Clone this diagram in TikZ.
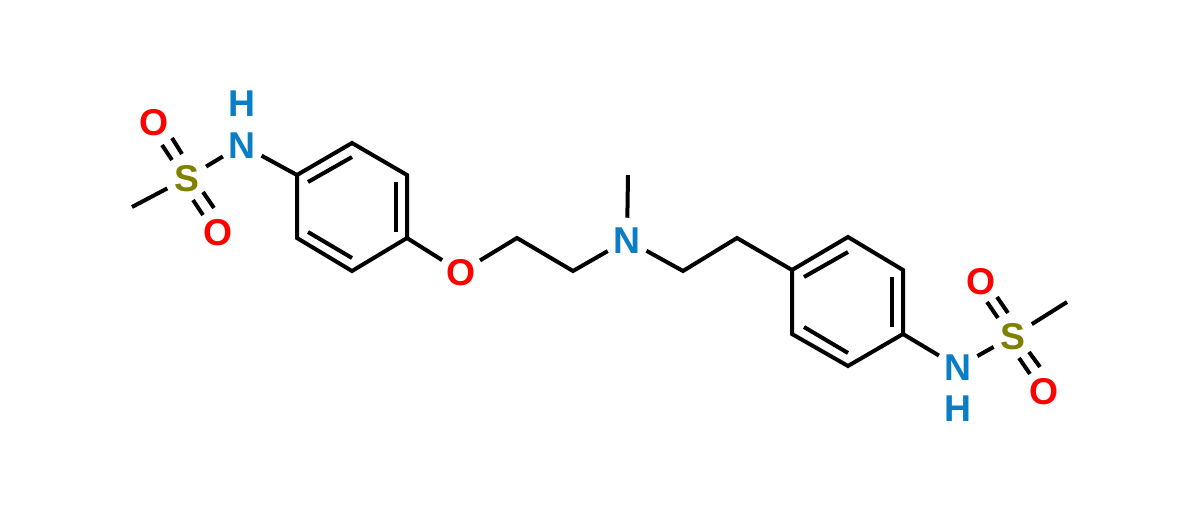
\documentclass[tikz,border=0pt]{standalone}
\usepackage{fontspec}
\setmainfont{Liberation Sans}
\definecolor{nblue}{HTML}{0A7EC4}
\definecolor{solive}{HTML}{808000}
\definecolor{ored}{HTML}{FF0000}
\tikzset{
  atomlabel/.style={circle,inner sep=0pt,minimum size=33pt,font=\bfseries\fontsize{28pt}{28pt}\selectfont,text height=20pt,text depth=0pt},
  natom/.style={atomlabel,text=nblue},
  satom/.style={atomlabel,text=solive},
  oatom/.style={atomlabel,text=ored},
  hatom/.style={natom,minimum size=1pt},
  bond/.style={draw=black,line width=3pt,line cap=butt,line join=miter}
}
\begin{document}
\begin{tikzpicture}[x=0.75pt,y=-0.75pt]
\useasboundingbox (0,0) rectangle (1200,511);
% left sulfonamide
\node[natom] (n1) at (242,145) {N};
\node[hatom] (h1) at (242,103) {H};
\node[satom] (s1) at (187,178) {S};
\node[oatom] (o1) at (154,122) {O};
\node[oatom] (o2) at (218,232) {O};
\coordinate (me1) at (132,207);
% left ring
\coordinate (a1) at (297,175);
\coordinate (a2) at (352,143);
\coordinate (a3) at (407,175);
\coordinate (a4) at (407,238);
\coordinate (a5) at (352,271);
\coordinate (a6) at (297,238);
% chain
\node[oatom] (o3) at (461,272) {O};
\coordinate (c1) at (517,238);
\coordinate (c2) at (573,271);
\node[natom] (n2) at (627,240) {N};
\coordinate (me2) at (628,175);
\coordinate (c3) at (683,271);
\coordinate (c4) at (737,238);
% right ring
\coordinate (b1) at (792,270);
\coordinate (b2) at (848,237);
\coordinate (b3) at (903,270);
\coordinate (b4) at (903,334);
\coordinate (b5) at (848,366);
\coordinate (b6) at (792,334);
% right sulfonamide
\node[natom] (n3) at (958,367) {N};
\node[hatom] (h3) at (958,408) {H};
\node[satom] (s3) at (1013,336) {S};
\node[oatom] (o4) at (981,281) {O};
\node[oatom] (o5) at (1044,391) {O};
\coordinate (me3) at (1067,302);
% single bonds
\draw[bond] (me1) -- (s1);
\draw[bond] (s1) -- (n1);
\draw[bond] (n1) -- (a1);
\draw[bond] (a1) -- (a2) -- (a3) -- (a4) -- (a5) -- (a6) -- cycle;
\draw[bond] (a4) -- (o3);
\draw[bond] (o3) -- (c1) -- (c2) -- (n2);
\draw[bond] (me2) -- (n2);
\draw[bond] (n2) -- (c3) -- (c4) -- (b1);
\draw[bond] (b1) -- (b2) -- (b3) -- (b4) -- (b5) -- (b6) -- cycle;
\draw[bond] (b4) -- (n3);
\draw[bond] (n3) -- (s3);
\draw[bond] (s3) -- (me3);
% ring inner lines
\draw[bond] (308,182) -- (352,157);
\draw[bond] (396,182) -- (396,232);
\draw[bond] (308,232) -- (352,258);
\draw[bond] (804,277) -- (848,252);
\draw[bond] (892,277) -- (892,327);
\draw[bond] (804,327) -- (848,353);
% S=O
\draw[bond] (162,145) -- (172,160);
\draw[bond] (172,138) -- (182,154);
\draw[bond] (193,200) -- (203,215);
\draw[bond] (203,192) -- (214,208);
\draw[bond] (987,302) -- (998,318);
\draw[bond] (997,297) -- (1008,313);
\draw[bond] (1019,358) -- (1030,374);
\draw[bond] (1029,352) -- (1040,367);
\end{tikzpicture}
\end{document}
